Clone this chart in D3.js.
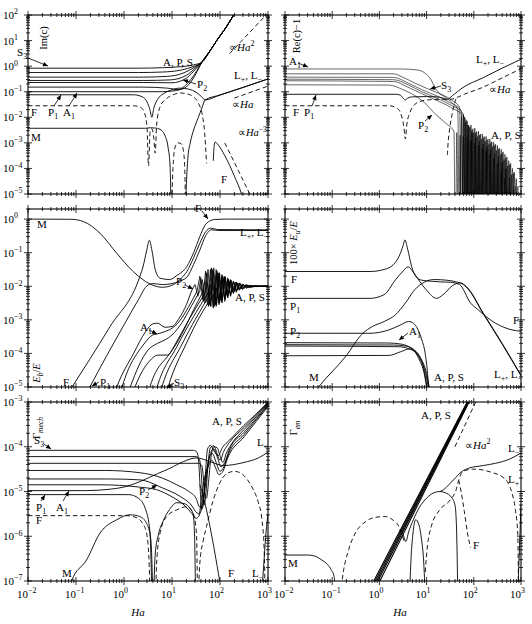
<!DOCTYPE html>
<html><head><meta charset="utf-8">
<script src="https://cdn.jsdelivr.net/npm/d3@7"></script>
<style>body{margin:0;background:#fff}svg{display:block}text{font-family:"Liberation Serif","Times New Roman",serif;fill:#000}</style>
</head><body><svg id="c" width="532" height="624"></svg>
<script>
// All series: [log10(Ha), log10(value)].
const xTickExps=[-2,-1,0,1,2,3];
const yTickExpsTop=[2,1,0,-1,-2,-3,-4,-5];
const yTickExpsMid=[0,-1,-2,-3,-4,-5];
const yTickExpsBot=[-3,-4,-5,-6,-7];

// ---- Im(c) ----
const imcTail=[[1.62,0.15],[1.8,0.62],[1.95,1.05],[2.12,1.5],[2.3,2.05]];
const imcS3=[[-2,-0.08],[0.3,-0.08],[0.8,-0.06],[1.2,-0.02],[1.45,0.05]];
const imcF2=[[-2,-0.25],[0.3,-0.25],[0.8,-0.23],[1.2,-0.15],[1.45,-0.01]];
const imcF3=[[-2,-0.43],[0.4,-0.43],[0.9,-0.4],[1.25,-0.26],[1.47,-0.04]];
const imcF4=[[-2,-0.56],[0.4,-0.56],[0.95,-0.54],[1.3,-0.36],[1.5,-0.05]];
const imcF5=[[-2,-0.64],[0.4,-0.64],[1.0,-0.65],[1.3,-0.47],[1.5,-0.1]];
const imcP2=[[-2,-0.82],[0.4,-0.82],[0.9,-0.86],[1.15,-0.92],[1.35,-0.72],[1.52,-0.22]];
const imcA1=[[-2,-1.0],[0.3,-1.0],[0.8,-1.0],[1.1,-0.95],[1.35,-0.62],[1.52,-0.17]];
const imcP1=[[-2,-1.12],[0.2,-1.12],[0.38,-1.2],[0.48,-1.4],[0.54,-1.7],[0.58,-2.0],[0.62,-1.65],[0.7,-1.3],[0.85,-1.05],[1.0,-0.92],[1.17,-0.86],[1.35,-0.9],[1.5,-1.02],[1.62,-1.2],[1.69,-1.32],[2.0,-1.13],[2.5,-0.82],[3.0,-0.5]];
const imcRise=[[1.28,-5.6],[1.3,-4.6],[1.33,-3.6],[1.38,-3.0],[1.45,-2.5],[1.55,-2.0],[1.63,-1.6],[1.69,-1.32],[2.0,-1.13],[2.5,-0.82],[3.0,-0.5]];
const imcM=[[-2,-2.43],[0.45,-2.43],[0.55,-2.41],[0.65,-2.42],[0.75,-2.47],[0.85,-2.7],[0.92,-3.2],[0.96,-3.9],[0.98,-5.6]];
const imcFdash=[[-2,-1.55],[0.2,-1.55],[0.35,-1.62],[0.43,-1.85],[0.48,-2.4],[0.51,-3.9],[0.545,-2.55],[0.58,-2.45],[0.62,-2.8],[0.65,-3.4],[0.68,-2.3],[0.75,-1.6],[0.9,-1.25],[1.05,-1.1],[1.17,-1.05],[1.3,-1.08],[1.45,-1.2],[1.55,-1.45],[1.63,-1.9],[1.68,-2.6],[1.72,-3.8]];
const imcDashArch=[[0.99,-5.6],[1.02,-4.0],[1.06,-3.2],[1.12,-3.0],[1.2,-3.05],[1.25,-3.5],[1.27,-4.3],[1.28,-5.6]];
const imcF=[[1.86,-3.7],[1.88,-3.1],[1.9,-2.97],[1.95,-3.05],[2.1,-3.5],[2.3,-4.3],[2.45,-5.0],[2.5,-5.3]];
const imcRef2=[[2.2,0.49],[2.96,2.0]];
const imcRef1=[[2.3,-1.25],[3.0,-0.78]];
const imcRef3=[[2.1,-3.0],[2.62,-5.0]];

// ---- Re(c)-1 ----
const reA1=[[-2,-0.11],[0.45,-0.11],[0.8,-0.15],[0.97,-0.28],[1.1,-0.55],[1.18,-0.85],[1.25,-1.02],[1.4,-1.22],[1.55,-1.45],[1.66,-1.7]];
const re2=[[-2,-0.30],[0.3,-0.30],[0.48,-0.42],[0.76,-0.67],[1.04,-0.9],[1.33,-1.12],[1.55,-1.35],[1.7,-1.62]];
const re3=[[-2,-0.43],[0.3,-0.44],[0.62,-0.67],[0.9,-0.92],[1.08,-1.06],[1.2,-1.15],[1.47,-1.4],[1.74,-1.75]];
const re4=[[-2,-0.51],[0.3,-0.53],[0.62,-0.74],[0.9,-1.0],[1.2,-1.24],[1.47,-1.48],[1.78,-1.88]];
const re5=[[-2,-0.57],[0.3,-0.6],[0.6,-0.82],[0.9,-1.08],[1.2,-1.33],[1.5,-1.6],[1.82,-2.05]];
const reP2=[[-2,-0.73],[0.2,-0.74],[0.5,-0.92],[0.75,-1.15],[0.95,-1.42],[1.2,-1.9],[1.45,-2.3],[1.58,-2.55]];
const reA1Pk=[[1.74,-1.95],[1.82,-2.2],[1.9,-2.35],[1.98,-2.45],[2.06,-2.55],[2.14,-2.65],[2.22,-2.75],[2.3,-2.85],[2.38,-2.95],[2.46,-3.05],[2.54,-3.2],[2.62,-3.35],[2.7,-3.55],[2.78,-3.8],[2.86,-4.15],[2.94,-4.7]];
const re2Pk=[[1.78,-1.9],[1.86,-2.15],[1.94,-2.3],[2.02,-2.42],[2.1,-2.55],[2.18,-2.65],[2.26,-2.75],[2.34,-2.85],[2.42,-2.97],[2.5,-3.1],[2.58,-3.25],[2.66,-3.45],[2.74,-3.7],[2.82,-4.0],[2.9,-4.4],[2.97,-5.0]];
const re3Pk=[[1.8,-2.0],[1.88,-2.3],[1.96,-2.5],[2.04,-2.6],[2.12,-2.7],[2.2,-2.8],[2.28,-2.9],[2.36,-3.0],[2.44,-3.1],[2.52,-3.25],[2.6,-3.4],[2.68,-3.6],[2.76,-3.85],[2.84,-4.2],[2.92,-4.7]];
const re4Pk=[[1.84,-2.1],[1.92,-2.4],[2.0,-2.6],[2.08,-2.75],[2.16,-2.85],[2.24,-2.95],[2.32,-3.05],[2.4,-3.15],[2.48,-3.3],[2.56,-3.45],[2.64,-3.65],[2.72,-3.9],[2.8,-4.25],[2.88,-4.7]];
const re5Pk=[[1.88,-2.3],[1.96,-2.6],[2.04,-2.8],[2.12,-2.95],[2.2,-3.05],[2.28,-3.15],[2.36,-3.25],[2.44,-3.4],[2.52,-3.55],[2.6,-3.75],[2.68,-4.0],[2.76,-4.35],[2.84,-4.8]];
const reP2Pk=[[1.64,-2.6],[1.71,-2.7],[1.78,-2.75],[1.86,-2.8],[1.94,-2.9],[2.02,-3.0],[2.1,-3.1],[2.18,-3.2],[2.26,-3.3],[2.34,-3.45],[2.42,-3.6],[2.5,-3.8],[2.58,-4.05],[2.66,-4.4],[2.74,-4.85]];
const reP1=[[-2,-1.1],[0.35,-1.1],[0.45,-1.14],[0.5,-1.25],[0.55,-1.32],[0.6,-1.25],[0.7,-1.2],[1.0,-1.19],[1.2,-1.2],[1.35,-1.25],[1.43,-1.3],[1.55,-1.15],[1.75,-0.86],[2.2,-0.45],[2.6,-0.08],[3.0,0.27]];
const reFd=[[-2,-1.55],[0.2,-1.55],[0.38,-1.65],[0.47,-1.95],[0.52,-2.4],[0.55,-2.85],[0.58,-2.3],[0.65,-1.8],[0.75,-1.5],[0.9,-1.36],[1.1,-1.31],[1.3,-1.3],[1.5,-1.3],[1.65,-1.22],[1.8,-1.1],[2.2,-0.82],[2.6,-0.46],[3.0,-0.1]];
const reFd2=[[1.62,-1.28],[1.56,-1.7],[1.5,-2.3],[1.46,-2.9],[1.44,-3.5]];

// ---- E_b/E ----
const ebM=[[-2,0],[-1.1,-0.005],[-0.85,-0.07],[-0.5,-0.42],[-0.15,-1.02],[0.19,-1.56],[0.4,-1.81],[0.6,-1.97],[0.8,-2.03],[1.03,-1.95],[1.2,-1.75],[1.31,-1.56],[1.45,-1.15],[1.58,-0.72],[1.7,-0.38],[1.8,-0.27],[1.95,-0.31],[3.0,-0.32]];
const ebF=[[-1.15,-5.15],[-0.29,-3.2],[0.33,-1.71],[0.4,-1.4],[0.47,-0.95],[0.53,-0.63],[0.58,-0.92],[0.65,-1.5],[0.75,-1.76],[0.95,-1.8],[1.1,-1.68],[1.31,-1.41],[1.45,-1.0],[1.58,-0.52],[1.68,-0.2],[1.78,-0.06],[1.9,-0.01],[2.1,0.0],[3.0,0.0]];
const ebP1=[[-0.8,-5.25],[-0.71,-5.0],[0.0,-3.15],[0.3,-2.4],[0.47,-2.0],[0.6,-1.92],[0.8,-1.95],[1.0,-1.92],[1.15,-1.85],[1.31,-1.73],[1.45,-1.35],[1.58,-0.92],[1.7,-0.5],[1.82,-0.32],[2.0,-0.34],[3.0,-0.34]];
const eb1=[[-0.2,-5.2],[-0.15,-5.0],[0.2,-4.0],[0.45,-3.35],[0.6,-3.12],[0.7,-3.1],[0.85,-3.22],[1.0,-3.2],[1.15,-2.95],[1.3,-2.55],[1.42,-2.1],[1.48,-1.95]];
const ebZ1=[[1.54,-2.3],[1.6,-1.75],[1.66,-2.45],[1.72,-1.6],[1.78,-2.55],[1.84,-1.5],[1.9,-2.55],[1.96,-1.6],[2.02,-2.4],[2.08,-1.75],[2.14,-2.25],[2.2,-1.85],[2.27,-2.15],[2.34,-1.92],[2.42,-2.07],[2.5,-1.97],[2.6,-2.02],[2.7,-2.0],[3.0,-2.0]];
const eb2=[[-0.08,-5.2],[-0.04,-5.0],[0.4,-3.75],[0.6,-3.45],[0.69,-3.42],[0.85,-3.35],[1.0,-3.25],[1.15,-3.05],[1.35,-2.6],[1.52,-2.15]];
const ebZ2=[[1.58,-1.7],[1.64,-2.4],[1.7,-1.55],[1.76,-2.6],[1.82,-1.45],[1.88,-2.6],[1.94,-1.55],[2.0,-2.45],[2.06,-1.7],[2.12,-2.3],[2.18,-1.8],[2.25,-2.18],[2.32,-1.88],[2.4,-2.1],[2.48,-1.95],[2.57,-2.03],[2.7,-2.0],[3.0,-2.0]];
const eb3=[[0.08,-5.2],[0.13,-5.0],[0.5,-3.9],[0.7,-3.7],[0.85,-3.6],[1.0,-3.45],[1.2,-3.1],[1.4,-2.6],[1.58,-2.15]];
const ebZ3=[[1.63,-1.8],[1.69,-2.5],[1.75,-1.5],[1.81,-2.6],[1.87,-1.45],[1.93,-2.55],[1.99,-1.6],[2.05,-2.4],[2.11,-1.72],[2.17,-2.28],[2.23,-1.82],[2.3,-2.15],[2.37,-1.9],[2.45,-2.08],[2.53,-1.96],[2.62,-2.02],[2.75,-2.0],[3.0,-2.0]];
const eb4=[[0.18,-5.2],[0.23,-5.0],[0.55,-4.2],[0.7,-4.05],[0.9,-4.05],[1.05,-3.8],[1.25,-3.3],[1.45,-2.7],[1.63,-2.2]];
const ebZ4=[[1.68,-1.85],[1.74,-2.55],[1.8,-1.5],[1.86,-2.65],[1.92,-1.5],[1.98,-2.5],[2.04,-1.65],[2.1,-2.38],[2.16,-1.75],[2.22,-2.25],[2.28,-1.85],[2.35,-2.13],[2.42,-1.92],[2.5,-2.06],[2.58,-1.97],[2.67,-2.01],[2.8,-2.0],[3.0,-2.0]];
const eb5=[[0.5,-5.2],[0.54,-5.0],[1.0,-3.9],[1.35,-3.0],[1.69,-2.2]];
const ebZ5=[[1.74,-1.9],[1.8,-2.6],[1.86,-1.55],[1.92,-2.6],[1.98,-1.6],[2.04,-2.45],[2.1,-1.7],[2.16,-2.33],[2.22,-1.8],[2.28,-2.2],[2.34,-1.88],[2.41,-2.1],[2.48,-1.94],[2.56,-2.05],[2.65,-1.98],[2.8,-2.0],[3.0,-2.0]];
const eb6=[[0.65,-5.2],[0.69,-5.0],[1.1,-3.8],[1.45,-2.9],[1.75,-2.2]];
const ebZ6=[[1.8,-1.95],[1.86,-2.6],[1.92,-1.65],[1.98,-2.55],[2.04,-1.7],[2.1,-2.4],[2.16,-1.78],[2.22,-2.28],[2.28,-1.85],[2.34,-2.15],[2.41,-1.9],[2.48,-2.08],[2.56,-1.96],[2.65,-2.02],[2.8,-2.0],[3.0,-2.0]];
const eb7=[[0.75,-5.2],[0.79,-5.0],[1.2,-3.75],[1.5,-2.95],[1.81,-2.2]];
const ebZ7=[[1.86,-2.0],[1.92,-2.55],[1.98,-1.7],[2.04,-2.5],[2.1,-1.75],[2.16,-2.35],[2.22,-1.82],[2.28,-2.22],[2.34,-1.88],[2.4,-2.12],[2.47,-1.93],[2.55,-2.06],[2.63,-1.97],[2.75,-2.01],[3.0,-2.0]];
const eb8=[[0.88,-5.2],[0.92,-5.0],[1.3,-3.7],[1.6,-2.85],[1.87,-2.25]];
const ebZ8=[[1.92,-2.05],[1.98,-2.5],[2.04,-1.75],[2.1,-2.45],[2.16,-1.8],[2.22,-2.3],[2.28,-1.85],[2.34,-2.18],[2.4,-1.9],[2.47,-2.1],[2.54,-1.95],[2.62,-2.04],[2.72,-1.98],[2.85,-2.0],[3.0,-2.0]];

// ---- 100 x E_u/E ----
const euF=[[-2,-1.56],[-0.2,-1.56],[0.1,-1.5],[0.3,-1.35],[0.42,-1.1],[0.5,-0.8],[0.54,-0.62],[0.6,-0.9],[0.68,-1.4],[0.76,-1.68],[0.9,-1.82],[1.1,-1.85],[1.3,-1.87],[1.5,-1.88],[1.7,-1.95],[1.8,-2.15],[1.89,-2.41],[2.1,-2.71],[2.46,-3.1],[2.81,-3.3],[3.0,-3.34]];
const euP1=[[-2,-2.36],[-0.2,-2.36],[0.1,-2.25],[0.34,-1.81],[0.5,-1.55],[0.61,-1.42],[0.7,-1.55],[0.85,-1.85],[1.0,-2.12],[1.21,-2.36],[1.35,-2.25],[1.55,-1.98],[1.71,-1.9],[1.85,-2.02],[2.2,-2.8],[2.6,-3.7],[3.0,-4.65]];
const euM=[[-1.4,-5.2],[-1.29,-5.0],[-0.72,-4.1],[-0.35,-3.4],[-0.15,-3.2],[0.1,-3.05],[0.34,-2.85],[0.55,-2.5],[0.75,-2.1],[0.95,-1.88],[1.15,-1.8],[1.43,-1.82],[1.6,-1.86],[1.78,-1.95],[1.9,-2.12],[2.2,-2.82],[2.6,-3.72],[3.0,-4.67]];
const euP2=[[-2,-3.40],[-0.2,-3.40],[0.2,-3.3],[0.45,-3.15],[0.62,-3.05],[0.72,-3.1],[0.82,-3.3],[0.9,-3.6],[0.97,-4.0],[1.02,-4.6],[1.05,-5.2]];
const euA1=[[-2,-3.68],[0.2,-3.69],[0.45,-3.72],[0.62,-3.8],[0.75,-3.95],[0.85,-4.2],[0.95,-4.6],[1.02,-5.2]];
const eu2=[[-2,-3.74],[0.3,-3.75],[0.55,-3.78],[0.7,-3.85],[0.82,-4.05],[0.93,-4.4],[1.03,-5.2]];
const eu3=[[-2,-3.78],[0.4,-3.8],[0.6,-3.85],[0.75,-3.95],[0.88,-4.2],[0.98,-4.6],[1.06,-5.2]];
const eu4=[[-2,-4.07],[0.2,-4.06],[0.45,-3.95],[0.62,-3.87],[0.75,-3.92],[0.88,-4.15],[1.0,-4.6],[1.08,-5.2]];

// ---- Gamma_mech ----
const gmM=[[-1.15,-7.3],[-1.09,-7.0],[-0.78,-6.53],[-0.5,-5.93],[-0.15,-5.63],[0.13,-5.52],[0.33,-5.56],[0.47,-5.71],[0.56,-6.08],[0.6,-7.3]];
const gmFd1=[[-2,-5.54],[0.06,-5.54],[0.25,-5.58],[0.38,-5.7],[0.47,-5.93],[0.52,-6.5],[0.54,-7.3]];
const gmFd2=[[0.66,-7.3],[0.68,-6.6],[0.75,-5.93],[0.89,-5.56],[1.1,-5.41],[1.31,-5.34],[1.44,-5.49],[1.51,-5.93],[1.53,-7.3]];
const gmFd3=[[1.55,-7.3],[1.58,-6.6],[1.65,-6.1],[1.72,-5.78],[1.86,-5.19],[2.0,-4.8],[2.14,-4.6],[2.3,-4.55],[2.42,-4.58],[2.56,-4.72],[2.69,-4.95],[2.8,-5.25],[2.87,-5.6],[2.92,-6.3],[2.94,-7.3]];
const gmP1=[[-2,-5.07],[0.1,-5.07],[0.3,-5.15],[0.45,-5.4],[0.54,-5.9],[0.58,-7.3]];
const gmArch=[[0.62,-7.3],[0.65,-6.4],[0.72,-5.95],[0.82,-5.65],[0.95,-5.4],[1.1,-5.25],[1.25,-5.27],[1.38,-5.38],[1.44,-5.5],[1.47,-6.0],[1.49,-7.3]];
const gmA1=[[-2,-4.98],[-0.8,-4.98],[-0.3,-4.95],[0.0,-4.9],[0.33,-4.78],[0.7,-4.6],[0.96,-4.48],[1.24,-4.33],[1.51,-4.25],[1.79,-4.33],[2.07,-4.42],[2.5,-4.35],[2.8,-4.25],[3.0,-4.12]];
const gmF=[[1.58,-4.85],[1.65,-5.11],[2.04,-7.3]];
const gmLm=[[2.87,-7.3],[2.92,-6.5],[2.96,-5.9],[3.0,-5.5]];
const gmS3=[[-2,-4.08],[1.45,-4.08],[1.52,-4.12],[1.56,-4.4],[1.59,-5.0],[1.62,-5.4],[1.66,-5.2],[1.7,-4.55],[1.74,-4.05],[1.8,-3.97],[1.88,-4.1],[1.96,-4.2],[2.05,-4.02],[2.2,-3.85],[2.5,-3.52],[2.75,-3.27],[3.0,-3.0]];
const gm2=[[-2,-4.22],[1.5,-4.22],[1.57,-4.28],[1.61,-4.6],[1.64,-5.1],[1.67,-5.3],[1.71,-5.0],[1.75,-4.4],[1.8,-4.02],[1.87,-3.98],[1.94,-4.15],[2.0,-4.3],[2.08,-4.1],[2.2,-3.9],[2.5,-3.57],[2.75,-3.3],[3.0,-3.02]];
const gm3=[[-2,-4.37],[1.55,-4.37],[1.62,-4.42],[1.66,-4.75],[1.69,-5.1],[1.72,-5.15],[1.76,-4.8],[1.81,-4.25],[1.87,-4.0],[1.94,-4.02],[2.0,-4.2],[2.06,-4.35],[2.13,-4.15],[2.25,-3.92],[2.5,-3.62],[2.75,-3.33],[3.0,-3.04]];
const gm4=[[-2,-4.53],[-0.4,-4.53],[0.33,-4.58],[0.8,-4.7],[1.1,-4.85],[1.35,-5.0],[1.5,-5.15],[1.58,-5.35],[1.63,-5.35],[1.68,-5.0],[1.74,-4.5],[1.8,-4.15],[1.87,-4.05],[1.95,-4.25],[2.02,-4.45],[2.1,-4.35],[2.2,-4.05],[2.5,-3.68],[2.75,-3.37],[3.0,-3.06]];
const gm5=[[-2,-4.72],[-0.3,-4.72],[0.33,-4.74],[0.8,-4.92],[1.17,-5.11],[1.4,-5.3],[1.52,-5.48],[1.58,-5.5],[1.64,-5.2],[1.7,-4.7],[1.76,-4.3],[1.84,-4.15],[1.92,-4.35],[2.0,-4.55],[2.08,-4.45],[2.18,-4.15],[2.5,-3.73],[2.75,-3.4],[3.0,-3.08]];
const gmP2=[[-2,-4.85],[-0.5,-4.85],[0.3,-4.9],[0.68,-4.96],[1.0,-5.12],[1.25,-5.3],[1.42,-5.5],[1.5,-5.6],[1.56,-5.55],[1.62,-5.1],[1.68,-4.7],[1.75,-4.45],[1.83,-4.3],[1.9,-4.45],[1.98,-4.62],[2.06,-4.55],[2.16,-4.25],[2.5,-3.78],[2.75,-3.44],[3.0,-3.1]];

// ---- Gamma_em ----
const emAPS1=[[-0.12,-7],[1.86,-3]];
const emAPS2=[[-0.09,-7],[1.87,-3]];
const emAPS3=[[-0.06,-7],[1.88,-3]];
const emAPS4=[[-0.03,-7],[1.89,-3]];
const emAPS5=[[0.01,-7],[1.9,-3]];
const emArch=[[0.47,-5.85],[0.52,-6.02],[0.56,-6.12],[0.62,-5.9],[0.72,-5.63],[0.85,-5.35],[1.0,-5.15],[1.15,-5.03],[1.28,-5.0],[1.4,-5.03],[1.52,-5.12],[1.6,-5.3],[1.63,-5.7],[1.65,-6.6],[1.66,-7.3]];
const emLm=[[1.28,-5.0],[1.36,-4.96],[1.47,-4.85],[1.57,-4.74],[1.75,-4.55],[1.89,-4.48],[2.2,-4.42],[2.46,-4.37],[2.75,-4.28],[3.0,-4.14]];
const emSmall=[[0.64,-7.3],[0.67,-6.5],[0.71,-5.95],[0.77,-5.63],[0.83,-5.72],[0.89,-6.05],[0.94,-6.6],[0.97,-7.3]];
const emDL=[[-0.82,-7.3],[-0.79,-7.0],[-0.65,-6.3],[-0.51,-5.93],[-0.3,-5.68],[-0.1,-5.58],[0.13,-5.56],[0.3,-5.65],[0.41,-5.78],[0.47,-5.95],[0.52,-6.1]];
const emDR=[[0.97,-6.8],[1.02,-6.2],[1.1,-5.78],[1.28,-5.41],[1.5,-5.19],[1.62,-4.98],[1.68,-4.75],[1.75,-4.57],[1.85,-4.52],[2.0,-4.5],[2.2,-4.52],[2.4,-4.58],[2.6,-4.67],[2.72,-4.8],[2.81,-5.04],[2.88,-5.4],[2.93,-5.93],[2.95,-7.3]];
const emFd=[[1.68,-4.75],[1.73,-5.0],[1.8,-5.45],[1.87,-5.95],[1.93,-6.25]];
const emM=[[-2,-6.42],[-1.5,-6.42],[-1.35,-6.45],[-1.22,-6.53],[-1.1,-6.63],[-1.02,-6.75],[-0.96,-6.9],[-0.93,-7.3]];
const emRef=[[1.6,-4.0],[2.04,-3.0]];
const emRt=[[2.93,-7.3],[2.97,-6.2],[3.0,-5.3]];

// ================= drawing =================
const COLS={L:[28,268],R:[285,521]};
const ROWS={top:{dom:[1e-5,1e2],rng:[194,15],ex:yTickExpsTop},mid:{dom:[1e-5,2],rng:[387,209],ex:yTickExpsMid},bot:{dom:[1e-7,1e-3],rng:[581,402],ex:yTickExpsBot}};
const svg=d3.select("#c");
const defs=svg.append("defs");
defs.append("marker").attr("id","ah").attr("viewBox","0 0 10 10").attr("refX",10).attr("refY",5)
  .attr("markerWidth",6).attr("markerHeight",5).attr("markerUnits","userSpaceOnUse").attr("orient","auto")
  .append("path").attr("d","M0,0.5L10,5L0,9.5z").attr("fill","#000");

function panel(id,col,row){
  const [x0,x1]=COLS[col], r=ROWS[row];
  const x=d3.scaleLog().domain([1e-2,1e3]).range([x0,x1]);
  const y=d3.scaleLog().domain(r.dom).range(r.rng);
  defs.append("clipPath").attr("id","cp"+id).append("rect").attr("x",x0).attr("y",r.rng[1]).attr("width",x1-x0).attr("height",r.rng[0]-r.rng[1]);
  const g=svg.append("g");
  const cg=g.append("g").attr("clip-path",`url(#cp${id})`);
  return {x,y,g,cg,x0,x1,y0:r.rng[0],y1:r.rng[1],dom:r.dom,ex:r.ex};
}
function draw(p,pts,o={}){
  const ln=d3.line().x(d=>p.x(Math.pow(10,d[0]))).y(d=>p.y(Math.pow(10,d[1]))).curve(o.curve||d3.curveMonotoneX);
  p.cg.append("path").attr("d",ln(pts)).attr("fill","none").attr("stroke","#000")
    .attr("stroke-width",o.w||0.9).attr("stroke-dasharray",o.dash?"4.5,3":null).attr("stroke-linejoin","round");
}
// oscillating series: peaks, curve drops to zero (off-axis) between them
function withDips(smooth,peaks,floorLog){
  const out=smooth.slice(); let prev=smooth[smooth.length-1];
  for(const pk of peaks){out.push([(prev[0]+pk[0])/2,floorLog]);out.push(pk);prev=pk;}
  return out;
}
function rich(t,str,fs){
  const re=/\*([^*]+)\*|([_^])\{([^}]*)\}|([^*_^]+)/g; let m,cur=0;
  while((m=re.exec(str))){
    let txt,shift=0,size=fs,ital=false;
    if(m[1]!==undefined){txt=m[1];ital=true;}
    else if(m[2]!==undefined){txt=m[3];size=fs*0.72;shift=m[2]==="_"?fs*0.3:-fs*0.42;if(txt.indexOf("*")>=0){ital=true;txt=txt.replace(/\*/g,"");}}
    else txt=m[4];
    const ts=t.append("tspan").text(txt).attr("font-size",size).attr("dy",shift-cur);
    if(ital) ts.attr("font-style","italic");
    cur=shift;
  }
}
function label(x,y,str,fs=11,anchor="start",rot=false){
  const t=svg.append("text").attr("font-size",fs).attr("text-anchor",anchor);
  if(rot) t.attr("transform",`translate(${x},${y}) rotate(-90)`); else t.attr("x",x).attr("y",y);
  rich(t,str,fs); return t;
}
function arrow(x1,y1,x2,y2){
  svg.append("line").attr("x1",x1).attr("y1",y1).attr("x2",x2).attr("y2",y2).attr("stroke","#000").attr("stroke-width",0.8).attr("marker-end","url(#ah)");
}
function frame(p,yLab,xLab){
  const g=p.g;
  g.append("rect").attr("x",p.x0).attr("y",p.y1).attr("width",p.x1-p.x0).attr("height",p.y0-p.y1).attr("fill","none").attr("stroke","#000").attr("stroke-width",1.1);
  const tk=(x1,y1,x2,y2)=>g.append("line").attr("x1",x1).attr("y1",y1).attr("x2",x2).attr("y2",y2).attr("stroke","#000").attr("stroke-width",0.8);
  for(let e=-2;e<=3;e++)for(let m=1;m<10;m++){
    const v=m*Math.pow(10,e); if(v>1000.0001) continue;
    const X=p.x(v), L=m===1?4:2;
    tk(X,p.y0-L,X,p.y0+L); tk(X,p.y1-L,X,p.y1+L);
  }
  const lo=Math.floor(Math.log10(p.dom[0])), hi=Math.ceil(Math.log10(p.dom[1]));
  for(let e=lo;e<=hi;e++)for(let m=1;m<10;m++){
    const v=m*Math.pow(10,e); if(v<p.dom[0]*0.9999) continue; if(v>p.dom[1]*1.0001) continue;
    const Y=p.y(v), L=m===1?4:2;
    tk(p.x0-L,Y,p.x0+L,Y); tk(p.x1-L,Y,p.x1+L,Y);
  }
  if(yLab) for(const e of p.ex){ label(3,p.y(Math.pow(10,e))+4,"10^{"+(e<0?"−"+(-e):e)+"}",11); }
  if(xLab){ for(const e of xTickExps){ label(p.x(Math.pow(10,e))-11,598,"10^{"+(e<0?"−"+(-e):e)+"}",11); }
    label((p.x0+p.x1)/2+(p.x0<100?-10:-3),616,"*Ha*",11,"middle"); }
}

const pTL=panel("tl","L","top"), pTR=panel("tr","R","top");
const pML=panel("ml","L","mid"), pMR=panel("mr","R","mid");
const pBL=panel("bl","L","bot"), pBR=panel("br","R","bot");

// --- Im(c)
[imcS3,imcF2,imcF3,imcF4,imcF5,imcP2,imcA1].forEach(s=>draw(pTL,s.concat(imcTail)));
draw(pTL,imcP1); draw(pTL,imcRise); draw(pTL,imcM); draw(pTL,imcF);
draw(pTL,imcFdash,{dash:1}); draw(pTL,imcDashArch,{dash:1});
draw(pTL,imcRef2,{dash:1,curve:d3.curveLinear}); draw(pTL,imcRef1,{dash:1,curve:d3.curveLinear}); draw(pTL,imcRef3,{dash:1,curve:d3.curveLinear});
// --- Re(c)-1
[[reA1,reA1Pk],[re2,re2Pk],[re3,re3Pk],[re4,re4Pk],[re5,re5Pk],[reP2,reP2Pk]].forEach(([s,pk])=>draw(pTR,withDips(s,pk,-8),{w:0.6}));
draw(pTR,reP1); draw(pTR,reFd,{dash:1}); draw(pTR,reFd2,{dash:1,curve:d3.curveCatmullRom});
// --- E_b/E
draw(pML,ebM); draw(pML,ebF); draw(pML,ebP1);
[[eb1,ebZ1],[eb2,ebZ2],[eb3,ebZ3],[eb4,ebZ4],[eb5,ebZ5],[eb6,ebZ6],[eb7,ebZ7],[eb8,ebZ8]].forEach(([s,z])=>{
  draw(pML,s); draw(pML,[s[s.length-1]].concat(z),{curve:d3.curveLinear,w:0.8});
});
// --- E_u
[euF,euP1,euM,euP2,euA1,eu2,eu3,eu4].forEach(s=>draw(pMR,s));
// --- Gamma_mech
[gmM,gmP1,gmArch,gmA1,gmF,gmLm,gmS3,gm2,gm3,gm4,gm5,gmP2].forEach(s=>draw(pBL,s));
[gmFd1,gmFd2,gmFd3].forEach(s=>draw(pBL,s,{dash:1}));
// --- Gamma_em
[emAPS1,emAPS2,emAPS3,emAPS4,emAPS5].forEach(s=>draw(pBR,s,{curve:d3.curveLinear,w:1.1}));
[emArch,emLm,emSmall,emM,emRt].forEach(s=>draw(pBR,s));
[emDL,emDR,emFd].forEach(s=>draw(pBR,s,{dash:1}));
draw(pBR,emRef,{dash:1,curve:d3.curveLinear});

frame(pTL,true,false); frame(pTR,false,false);
frame(pML,true,false); frame(pMR,false,false);
frame(pBL,true,true); frame(pBR,false,true);

// --- annotations: top-left
label(47,38,"Im(c)",10.5,"middle",true);
label(17,56,"S_{3}"); arrow(28,58,48,66);
label(163,66,"A, P, S");
label(229,51,"∝*Ha*^{2}");
label(197,88,"P_{2}"); arrow(196,84,183,80);
label(234,79,"L_{+}, L_{−}");
label(232,108,"∝*Ha*");
label(31,116,"F"); label(48,116,"P_{1}"); arrow(54,106,61,95); label(63,116,"A_{1}"); arrow(69,106,77,93);
label(31,141,"M");
label(238,136,"∝*Ha*^{−3}",10.5);
label(221,183,"F");
// top-right
label(300,36,"Re(c)−1",10.5,"middle",true);
label(289,65,"A_{1}"); arrow(298,63,308,67);
label(476,63,"L_{+}, L_{−}");
label(441,89,"S_{3}"); arrow(441,86,430,89);
label(489,93,"∝*Ha*");
label(293,116,"F"); label(304,116,"P_{1}"); arrow(312,106,316,95);
label(418,129,"P_{2}"); arrow(425,121,432,115);
label(491,139,"A, P, S");
// middle-left
label(40,373,"*E*_{*b*}/*E*",10.5,"middle",true);
label(37,228,"M");
label(195,212,"F"); arrow(202,211,208,219);
label(240,236,"L_{+}, L_{−}");
label(176,285,"P_{2}"); arrow(185,285,193,289);
label(235,301,"A, P, S");
label(140,331,"A_{1}"); arrow(149,330,157,334);
label(63,386,"F"); label(100,386,"P_{1}"); arrow(99,382,92,386);
label(174,386,"S_{3}"); arrow(174,383,167,388);
// middle-right
label(297,243,"100× *E*_{*u*}/*E*",10.5,"middle",true);
label(291,283,"F"); label(290,310,"P_{1}"); label(290,335,"P_{2}");
label(409,335,"A_{1}"); arrow(408,333,399,340);
label(309,381,"M"); label(434,381,"A, P, S"); label(494,378,"L_{+}, L_{−}"); label(513,324,"F");
// bottom-left
label(40,428,"Γ_{*mech*}",10.5,"middle",true);
label(34,444,"S_{3}"); arrow(44,444,51,449);
label(212,425,"A, P, S");
label(257,446,"L_{+}");
label(139,495,"P_{2}"); arrow(148,490,157,485);
label(36,511,"P_{1}"); arrow(41,501,45,495);
label(56,511,"A_{1}"); arrow(63,501,69,491);
label(36,524,"F");
label(62,577,"M"); label(228,577,"F"); label(252,577,"L_{−}");
// bottom-right
label(297,428,"Γ_{*em*}",10.5,"middle",true);
label(421,419,"A, P, S");
label(465,449,"∝*Ha*^{2}");
label(508,452,"L_{−}"); label(508,483,"L_{+}");
label(473,549,"F"); label(288,567,"M");
</script></body></html>
